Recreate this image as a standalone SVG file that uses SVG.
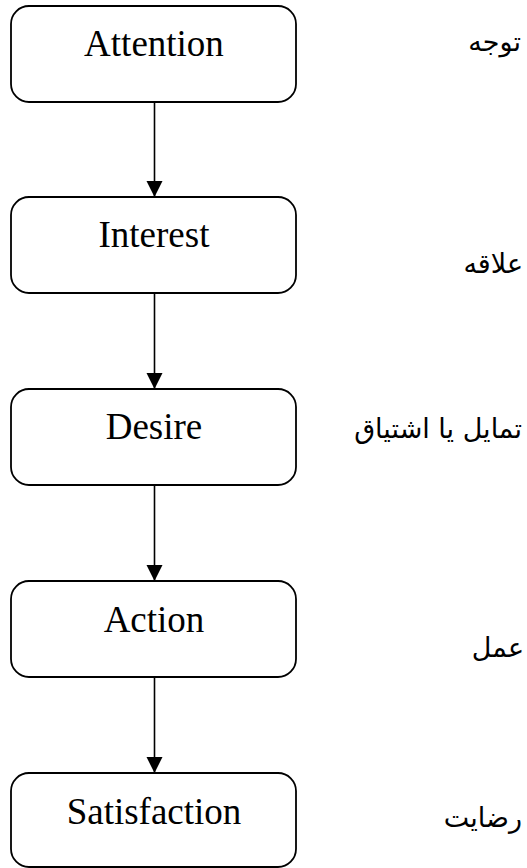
<svg xmlns="http://www.w3.org/2000/svg" width="527" height="868" viewBox="0 0 527 868">
<style>
.box{fill:#fff;stroke:#000;stroke-width:1.8}
.lbl{font-family:"Liberation Serif","Times New Roman",serif;font-size:37px;text-anchor:middle;fill:#000}
.fa{font-family:"DejaVu Sans","Noto Sans",sans-serif;font-size:27px;text-anchor:end;fill:#000}
.con{stroke:#000;stroke-width:1.6;fill:none}
</style>
<defs>
<marker id="ah" markerUnits="userSpaceOnUse" markerWidth="16" markerHeight="17" refX="16" refY="8" orient="auto">
<path d="M0,0 L16,8 L0,16 Z" fill="#000"/>
</marker>
</defs>
<rect width="527" height="868" fill="#fff"/>
<g id="connectors">
<line class="con" x1="154.5" y1="102" x2="154.5" y2="197" marker-end="url(#ah)"/>
<line class="con" x1="154.5" y1="293" x2="154.5" y2="389" marker-end="url(#ah)"/>
<line class="con" x1="154.5" y1="485" x2="154.5" y2="581" marker-end="url(#ah)"/>
<line class="con" x1="154.5" y1="677" x2="154.5" y2="773" marker-end="url(#ah)"/>
</g>
<g id="attention">
<rect class="box" x="11" y="6" width="285" height="96" rx="18"/>
<text class="lbl" x="154" y="56">Attention</text>
</g>
<g id="interest">
<rect class="box" x="11" y="197" width="285" height="96" rx="18"/>
<text class="lbl" x="154" y="247">Interest</text>
</g>
<g id="desire">
<rect class="box" x="11" y="389" width="285" height="96" rx="18"/>
<text class="lbl" x="154" y="439">Desire</text>
</g>
<g id="action">
<rect class="box" x="11" y="581" width="285" height="96" rx="18"/>
<text class="lbl" x="154" y="632">Action</text>
</g>
<g id="satisfaction">
<rect class="box" x="11" y="773" width="285" height="94" rx="18"/>
<text class="lbl" x="154" y="824">Satisfaction</text>
</g>
<g id="persian-labels">
<text class="fa" x="521" y="51">توجه</text>
<text class="fa" x="523" y="273">علاقه</text>
<text class="fa" x="522" y="438">تمایل یا اشتیاق</text>
<text class="fa" x="524" y="657">عمل</text>
<text class="fa" x="522" y="827">رضایت</text>
</g>
</svg>
